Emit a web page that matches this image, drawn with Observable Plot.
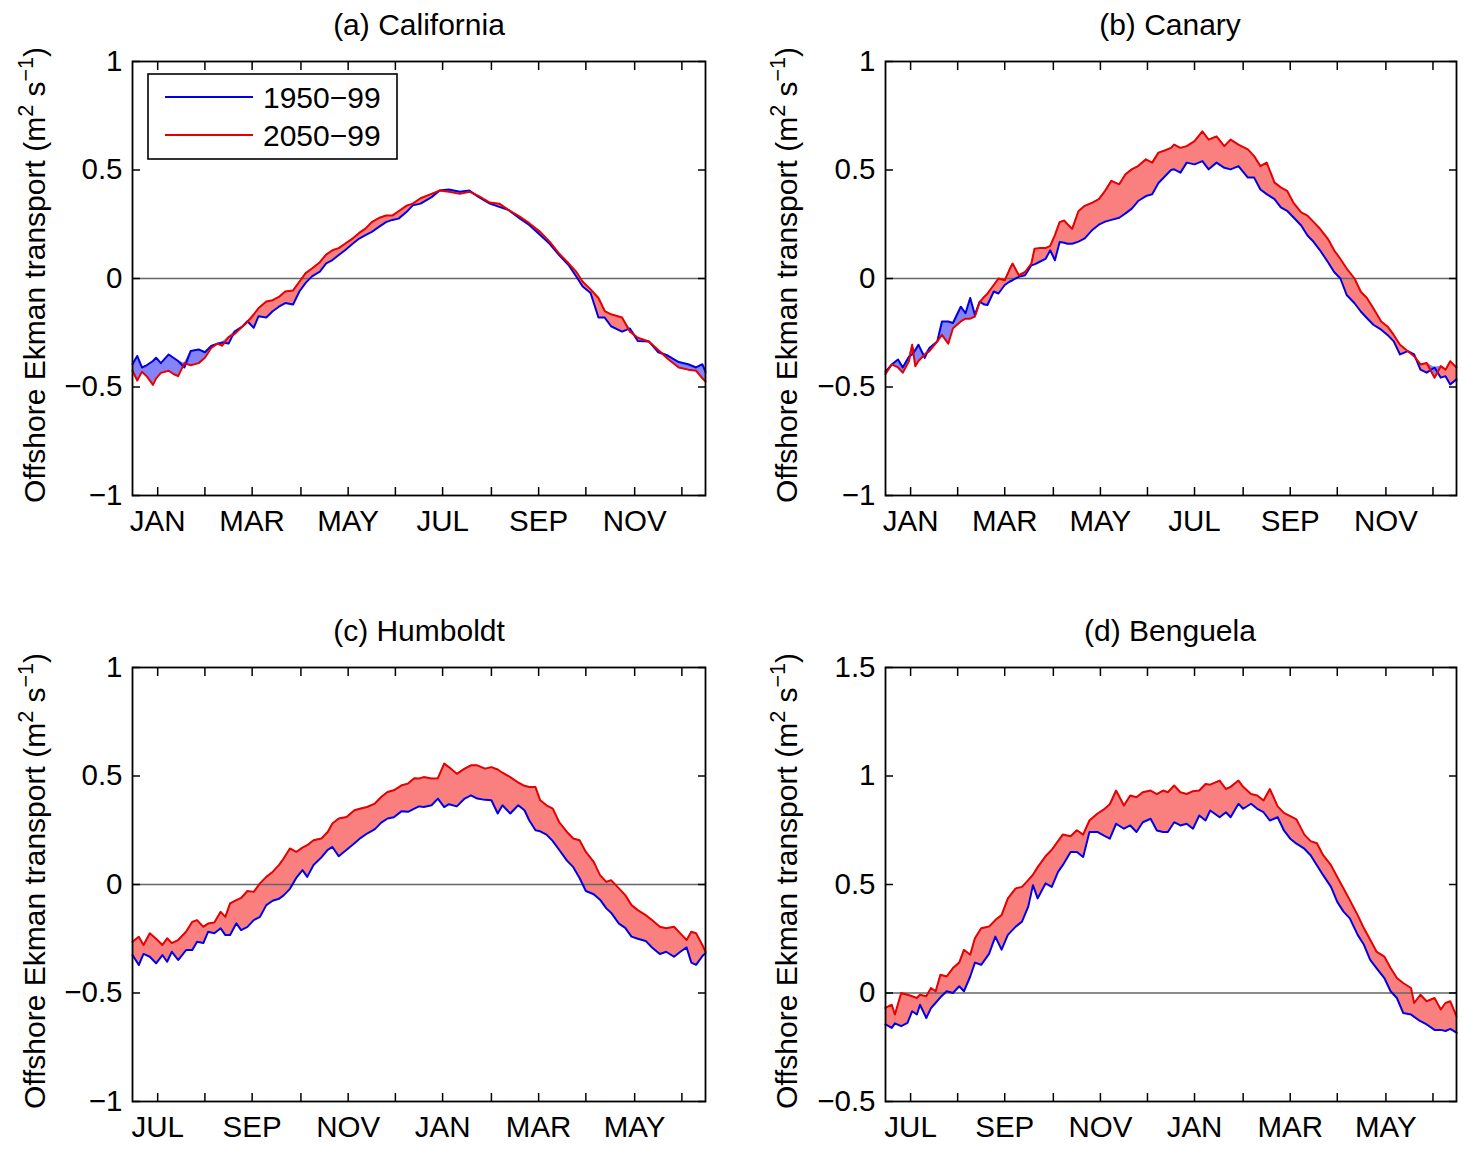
<!DOCTYPE html>
<html><head><meta charset="utf-8">
<script src="https://cdn.jsdelivr.net/npm/d3@7"></script>
<script src="https://cdn.jsdelivr.net/npm/@observablehq/plot@0.6"></script>
<style>
body{margin:0;background:#fff;font-family:"Liberation Sans",Arial,sans-serif;color:#000;}
#fig{position:relative;width:1470px;height:1153px;overflow:hidden;background:#fff;}
.panel{position:absolute;}
.title{position:absolute;font-size:30px;transform:translate(-50%,-50%);white-space:nowrap;}
.ylab{position:absolute;font-size:30px;white-space:nowrap;transform:translate(-50%,-50%) rotate(-90deg);}
.ylab sup{font-size:0.72em;line-height:0;vertical-align:0.55em;}
.legend{position:absolute;}
</style></head>
<body><div id="fig"></div>
<script>
// ---- shared axis definitions ----
const tickDays = [17, 47, 77, 108, 138, 168, 198, 229, 259, 289, 320, 350];
const monthsAB = ["JAN", "MAR", "MAY", "JUL", "SEP", "NOV"];
const monthsCD = ["JUL", "SEP", "NOV", "JAN", "MAR", "MAY"];
const yTicksABC = [-1, -0.5, 0, 0.5, 1];
const yLabelsABC = ["\u22121", "\u22120.5", "0", "0.5", "1"];
const yTicksD = [-0.5, 0, 0.5, 1, 1.5];
const yLabelsD = ["\u22120.5", "0", "0.5", "1", "1.5"];
const seriesNames = ["1950\u221299", "2050\u221299"];
const titles = ["(a) California", "(b) Canary", "(c) Humboldt", "(d) Benguela"];

// ---- (a) California ----
const daysA = [1,4,7,10,14,16,19,24,27,30,34,38,43,47,51,55,58,62,66,71,74,78,81,86,90,94,98,103,107,111,115,120,124,128,132,136,141,145,149,153,158,162,166,170,175,179,184,191,196,202,209,215,221,228,234,240,247,253,260,266,272,278,283,287,292,297,301,305,312,317,322,329,335,341,348,354,359,363,365];
const blueA = [-0.395,-0.357,-0.41,-0.40,-0.38,-0.365,-0.39,-0.35,-0.365,-0.38,-0.41,-0.334,-0.327,-0.34,-0.311,-0.30,-0.295,-0.30,-0.243,-0.22,-0.197,-0.227,-0.174,-0.18,-0.151,-0.13,-0.113,-0.12,-0.06,-0.02,0.01,0.032,0.07,0.085,0.108,0.13,0.161,0.184,0.2,0.215,0.24,0.26,0.27,0.276,0.306,0.337,0.345,0.375,0.405,0.41,0.40,0.405,0.375,0.345,0.33,0.315,0.277,0.247,0.2,0.16,0.108,0.062,0.008,-0.037,-0.067,-0.18,-0.18,-0.22,-0.245,-0.23,-0.288,-0.29,-0.34,-0.355,-0.385,-0.395,-0.41,-0.395,-0.43];
const redA = [-0.425,-0.47,-0.43,-0.45,-0.49,-0.46,-0.435,-0.425,-0.44,-0.45,-0.39,-0.40,-0.39,-0.365,-0.32,-0.30,-0.31,-0.27,-0.255,-0.22,-0.20,-0.166,-0.137,-0.106,-0.10,-0.085,-0.06,-0.055,-0.015,0.025,0.046,0.075,0.11,0.13,0.14,0.16,0.185,0.21,0.23,0.26,0.28,0.29,0.29,0.31,0.335,0.345,0.37,0.39,0.405,0.40,0.39,0.40,0.38,0.35,0.345,0.315,0.285,0.255,0.215,0.17,0.115,0.07,0.03,-0.015,-0.05,-0.09,-0.15,-0.165,-0.18,-0.245,-0.273,-0.29,-0.33,-0.37,-0.41,-0.42,-0.425,-0.46,-0.475];

// ---- (b) Canary ----
const daysB = [1,5,9,12,16,18,20,22,26,29,34,37,41,44,49,52,55,58,61,64,66,70,73,77,80,82,86,90,94,96,99,103,106,109,112,115,117,120,124,128,133,137,141,145,150,154,158,162,167,171,175,179,183,185,189,193,198,203,207,212,217,221,226,232,236,240,244,249,253,257,261,266,270,274,278,283,287,291,295,300,304,308,312,317,321,325,329,334,338,342,346,351,355,358,361,365];
const blueB = [-0.43,-0.396,-0.373,-0.41,-0.36,-0.35,-0.33,-0.305,-0.366,-0.32,-0.29,-0.198,-0.198,-0.205,-0.13,-0.16,-0.09,-0.168,-0.107,-0.12,-0.122,-0.06,-0.069,-0.03,-0.015,-0.008,0.008,0.015,0.061,0.065,0.076,0.09,0.13,0.084,0.168,0.165,0.16,0.16,0.17,0.185,0.225,0.248,0.262,0.27,0.28,0.30,0.322,0.357,0.38,0.388,0.44,0.47,0.50,0.503,0.488,0.534,0.526,0.541,0.503,0.534,0.51,0.503,0.518,0.465,0.465,0.41,0.389,0.366,0.328,0.312,0.282,0.244,0.198,0.168,0.13,0.076,0.03,0.0,-0.076,-0.114,-0.152,-0.183,-0.213,-0.236,-0.26,-0.29,-0.35,-0.335,-0.35,-0.42,-0.434,-0.41,-0.457,-0.45,-0.488,-0.465];
const redB = [-0.44,-0.396,-0.41,-0.434,-0.38,-0.305,-0.404,-0.38,-0.35,-0.335,-0.29,-0.26,-0.30,-0.229,-0.198,-0.185,-0.185,-0.175,-0.11,-0.084,-0.07,-0.03,0.0,-0.008,0.04,0.069,0.015,0.03,0.069,0.137,0.14,0.14,0.15,0.2,0.26,0.267,0.25,0.229,0.31,0.335,0.35,0.366,0.404,0.45,0.434,0.48,0.503,0.518,0.549,0.534,0.58,0.59,0.602,0.617,0.602,0.61,0.633,0.678,0.64,0.655,0.61,0.64,0.617,0.595,0.564,0.518,0.534,0.442,0.42,0.404,0.35,0.305,0.29,0.26,0.229,0.183,0.13,0.09,0.046,0.0,-0.061,-0.091,-0.137,-0.198,-0.221,-0.26,-0.305,-0.335,-0.358,-0.396,-0.389,-0.457,-0.404,-0.42,-0.381,-0.41];

// ---- (c) Humboldt (year starting JUL) ----
const daysC = [1,5,8,12,16,20,23,26,30,35,39,42,46,49,53,57,60,63,67,70,74,78,82,86,90,94,97,101,105,109,112,116,121,125,128,132,137,142,146,150,155,159,163,167,172,176,180,183,186,191,195,199,202,207,212,216,220,225,229,233,236,241,246,250,253,257,260,264,268,272,277,281,285,289,294,298,302,305,310,314,318,322,327,331,336,340,345,349,353,356,359,363,365];
const blueC = [-0.325,-0.371,-0.32,-0.333,-0.363,-0.325,-0.356,-0.31,-0.348,-0.302,-0.302,-0.264,-0.27,-0.218,-0.225,-0.202,-0.233,-0.233,-0.179,-0.21,-0.195,-0.164,-0.149,-0.095,-0.075,-0.066,-0.05,-0.02,0.03,0.066,0.035,0.09,0.125,0.16,0.173,0.13,0.16,0.19,0.215,0.235,0.255,0.285,0.304,0.31,0.338,0.335,0.35,0.36,0.357,0.365,0.396,0.357,0.37,0.36,0.396,0.411,0.396,0.39,0.388,0.327,0.365,0.327,0.365,0.342,0.296,0.25,0.245,0.23,0.2,0.16,0.11,0.08,0.03,-0.03,-0.045,-0.07,-0.11,-0.13,-0.18,-0.2,-0.24,-0.25,-0.26,-0.29,-0.32,-0.31,-0.333,-0.31,-0.29,-0.36,-0.37,-0.33,-0.317];
const redC = [-0.264,-0.241,-0.279,-0.225,-0.25,-0.279,-0.248,-0.27,-0.256,-0.218,-0.172,-0.164,-0.195,-0.18,-0.175,-0.126,-0.149,-0.087,-0.072,-0.062,-0.03,-0.034,0.005,0.035,0.058,0.089,0.12,0.166,0.15,0.17,0.181,0.204,0.212,0.242,0.281,0.304,0.311,0.342,0.35,0.357,0.373,0.403,0.426,0.434,0.457,0.465,0.49,0.488,0.495,0.488,0.49,0.557,0.541,0.51,0.534,0.549,0.549,0.534,0.541,0.53,0.515,0.495,0.47,0.455,0.449,0.449,0.388,0.365,0.35,0.288,0.242,0.212,0.204,0.15,0.104,0.043,0.012,0.02,-0.018,-0.049,-0.095,-0.118,-0.141,-0.164,-0.195,-0.202,-0.195,-0.225,-0.256,-0.218,-0.225,-0.279,-0.31];

// ---- (d) Benguela (year starting JUL) ----
const daysD = [1,5,7,11,15,18,21,23,27,30,33,36,40,44,48,51,55,58,62,67,71,75,79,84,88,92,95,98,103,107,111,114,119,123,127,131,136,140,144,148,153,157,161,165,170,174,178,181,185,189,193,197,201,205,208,214,218,221,226,229,234,238,242,246,251,255,259,263,268,272,276,280,285,289,293,297,302,306,310,314,319,323,327,331,336,338,342,346,351,355,358,361,365];
const blueD = [-0.145,-0.161,-0.14,-0.153,-0.138,-0.084,-0.099,-0.054,-0.115,-0.07,-0.045,-0.02,0.008,0.0,0.031,0.008,0.076,0.14,0.13,0.18,0.26,0.2,0.268,0.306,0.329,0.398,0.497,0.436,0.505,0.489,0.558,0.589,0.65,0.65,0.627,0.742,0.742,0.726,0.711,0.78,0.757,0.772,0.742,0.787,0.803,0.749,0.742,0.742,0.787,0.772,0.78,0.757,0.818,0.795,0.841,0.81,0.833,0.81,0.872,0.849,0.872,0.849,0.833,0.795,0.81,0.749,0.711,0.688,0.665,0.635,0.589,0.543,0.489,0.42,0.375,0.344,0.268,0.222,0.153,0.115,0.069,0.008,-0.023,-0.092,-0.099,-0.11,-0.13,-0.145,-0.17,-0.17,-0.175,-0.165,-0.183];
const redD = [-0.069,-0.054,-0.099,0.0,-0.008,-0.015,-0.023,-0.008,-0.015,0.023,0.008,0.084,0.076,0.115,0.14,0.199,0.176,0.252,0.298,0.306,0.336,0.359,0.436,0.482,0.489,0.52,0.545,0.58,0.63,0.66,0.70,0.73,0.722,0.75,0.73,0.795,0.826,0.845,0.87,0.933,0.864,0.91,0.902,0.925,0.933,0.917,0.933,0.925,0.956,0.925,0.917,0.93,0.933,0.963,0.96,0.979,0.94,0.95,0.979,0.95,0.917,0.91,0.887,0.94,0.86,0.83,0.815,0.8,0.73,0.70,0.69,0.635,0.589,0.535,0.482,0.428,0.359,0.298,0.245,0.191,0.168,0.115,0.069,0.046,0.023,-0.046,-0.008,-0.038,-0.023,-0.076,-0.046,-0.038,-0.107];

// ---- style ----
const BLUE = "#0000e6", RED = "#e60000";
const BLUE_FILL = "#8484f6", RED_FILL = "#fa8080";
const FONT = "'Liberation Sans', Arial, Helvetica, sans-serif";
const fig = document.getElementById("fig");

function makePanel(cfg) {
  const rows = cfg.days.map((d, i) => ({day: d, b: cfg.blue[i], r: cfg.red[i]}));
  const upper = (d) => Math.max(d.b, d.r);
  const labelTicks = tickDays.filter((d, i) => i % 2 === 0);
  const tickStyle = {tickSize: -8, tickFormat: () => "", strokeWidth: 1.5, label: null};
  const chart = Plot.plot({
    width: cfg.width, height: cfg.height,
    marginLeft: 132, marginTop: 61, marginRight: cfg.mr, marginBottom: cfg.mb,
    x: {domain: [1, 365]},
    y: {domain: cfg.yDomain},
    style: {fontSize: "29.5px", fontFamily: FONT, background: "transparent", color: "#000", overflow: "visible"},
    marks: [
      Plot.areaY(rows, {x: "day", y1: "b", y2: upper, fill: RED_FILL}),
      Plot.areaY(rows, {x: "day", y1: "r", y2: upper, fill: BLUE_FILL}),
      Plot.ruleY([0], {stroke: "#666", strokeWidth: 1.3}),
      Plot.lineY(rows, {x: "day", y: "b", stroke: BLUE, strokeWidth: 2}),
      Plot.lineY(rows, {x: "day", y: "r", stroke: RED, strokeWidth: 2}),
      Plot.frame({stroke: "#000", strokeWidth: 1.8}),
      Plot.axisX({anchor: "bottom", ticks: tickDays, ...tickStyle}),
      Plot.axisX({anchor: "top", ticks: tickDays, ...tickStyle}),
      Plot.axisY({anchor: "left", ticks: cfg.yTicks, ...tickStyle}),
      Plot.axisY({anchor: "right", ticks: cfg.yTicks, ...tickStyle}),
      Plot.axisX({anchor: "bottom", ticks: labelTicks, tickSize: 0, tickPadding: 15, label: null,
        tickFormat: (d) => cfg.months[labelTicks.indexOf(d)]}),
      Plot.axisY({anchor: "left", ticks: cfg.yTicks, tickSize: 0, tickPadding: 10, label: null,
        tickFormat: (d) => cfg.yLabels[cfg.yTicks.indexOf(d)]})
    ]
  });
  const wrap = document.createElement("div");
  wrap.className = "panel";
  wrap.style.left = cfg.left + "px";
  wrap.style.top = cfg.top + "px";
  wrap.appendChild(chart);
  fig.appendChild(wrap);

  const t = document.createElement("div");
  t.className = "title";
  t.textContent = cfg.title;
  t.style.left = cfg.titleX + "px";
  t.style.top = cfg.titleY + "px";
  fig.appendChild(t);

  const yl = document.createElement("div");
  yl.className = "ylab";
  yl.innerHTML = "Offshore Ekman transport (m<sup>2</sup> s<sup>\u22121</sup>)";
  yl.style.left = cfg.ylabX + "px";
  yl.style.top = cfg.ylabY + "px";
  fig.appendChild(yl);
}

makePanel({title: titles[0], days: daysA, blue: blueA, red: redA, months: monthsAB,
  yDomain: [-1, 1], yTicks: yTicksABC, yLabels: yLabelsABC,
  left: 0, top: 0, width: 735, height: 560, mr: 30, mb: 65,
  titleX: 419, titleY: 25, ylabX: 35, ylabY: 275});
makePanel({title: titles[1], days: daysB, blue: blueB, red: redB, months: monthsAB,
  yDomain: [-1, 1], yTicks: yTicksABC, yLabels: yLabelsABC,
  left: 753, top: 0, width: 713, height: 560, mr: 10, mb: 65,
  titleX: 1170, titleY: 25, ylabX: 787, ylabY: 275});
makePanel({title: titles[2], days: daysC, blue: blueC, red: redC, months: monthsCD,
  yDomain: [-1, 1], yTicks: yTicksABC, yLabels: yLabelsABC,
  left: 0, top: 606, width: 735, height: 547, mr: 30, mb: 52,
  titleX: 419, titleY: 631, ylabX: 35, ylabY: 881});
makePanel({title: titles[3], days: daysD, blue: blueD, red: redD, months: monthsCD,
  yDomain: [-0.5, 1.5], yTicks: yTicksD, yLabels: yLabelsD,
  left: 753, top: 606, width: 713, height: 547, mr: 10, mb: 52,
  titleX: 1170, titleY: 631, ylabX: 787, ylabY: 881});

// ---- legend (panel a) ----
const ns = "http://www.w3.org/2000/svg";
const leg = document.createElementNS(ns, "svg");
leg.setAttribute("class", "legend");
leg.setAttribute("width", 252);
leg.setAttribute("height", 88);
leg.style.left = "147px";
leg.style.top = "73px";
leg.innerHTML =
  `<rect x="1" y="1" width="249" height="85" fill="#fff" stroke="#000" stroke-width="1.6"/>` +
  `<line x1="18" x2="106" y1="24" y2="24" stroke="${BLUE}" stroke-width="1.8"/>` +
  `<line x1="18" x2="106" y1="62" y2="62" stroke="${RED}" stroke-width="1.8"/>` +
  `<text x="116" y="35" font-size="30" font-family="${FONT.replace(/'/g, "")}">${seriesNames[0]}</text>` +
  `<text x="116" y="73" font-size="30" font-family="${FONT.replace(/'/g, "")}">${seriesNames[1]}</text>`;
fig.appendChild(leg);
</script>
</body></html>
